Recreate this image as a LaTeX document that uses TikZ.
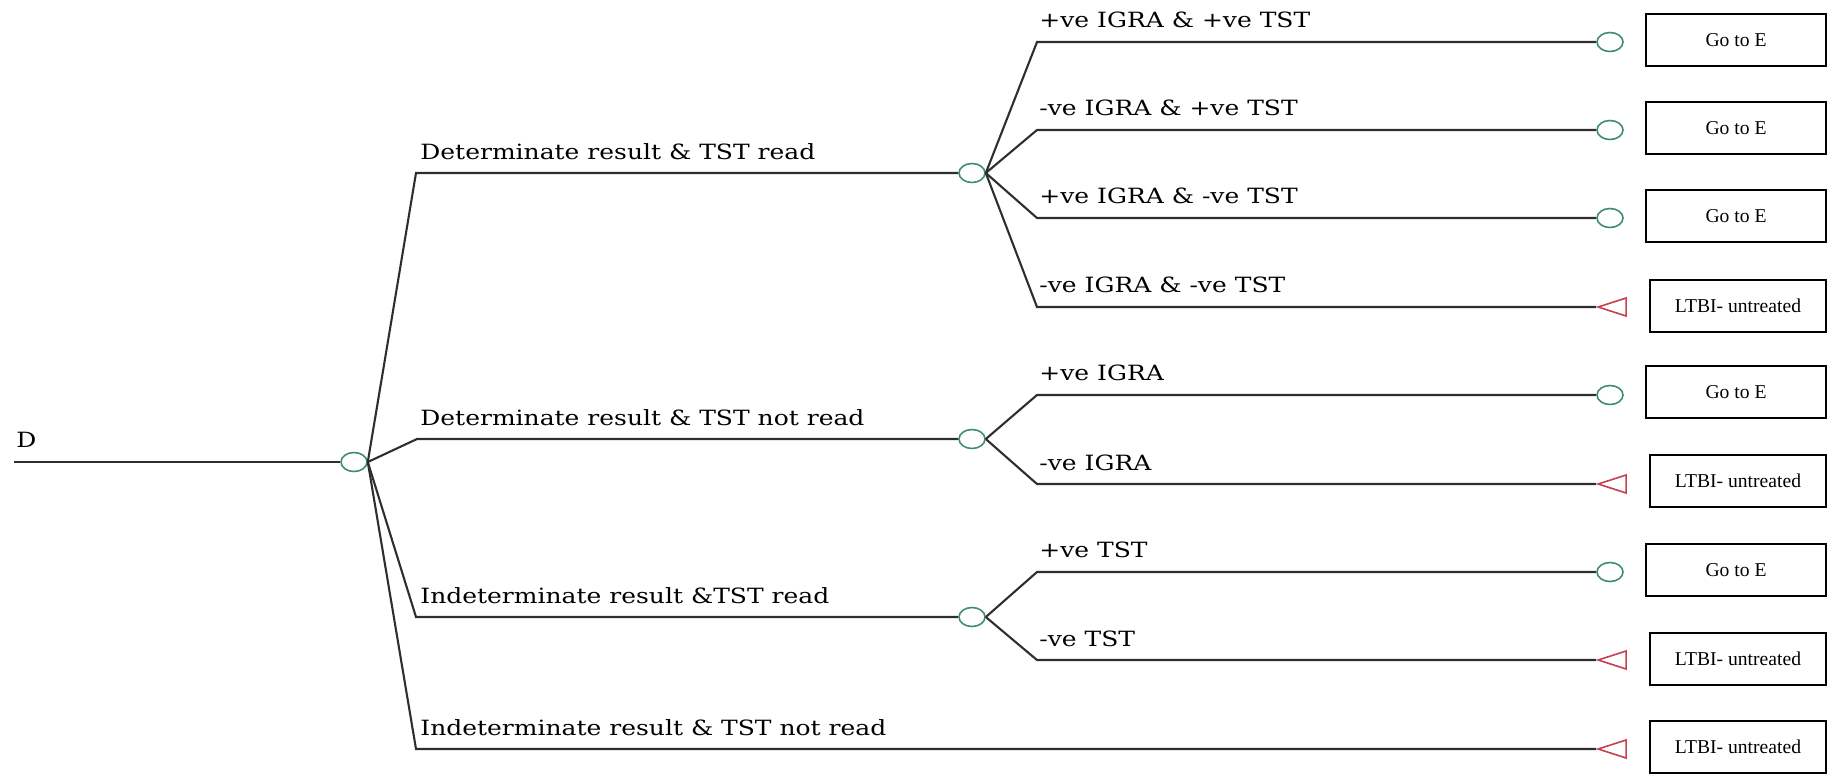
\documentclass[tikz,border=0pt]{standalone}
\usepackage{fontspec}
\setmainfont{Liberation Serif}
\newfontfamily\treefont[FakeStretch=1.19]{DejaVu Serif}
\usepackage{tikz}
\usetikzlibrary{shapes.geometric,positioning}
\usepackage{xcolor}
\definecolor{chancegreen}{HTML}{3E8E6E}
\definecolor{termred}{HTML}{C8404E}
\definecolor{branchgray}{HTML}{2E2E2E}

\begin{document}
\begin{tikzpicture}[x=0.5pt, y=-0.5pt,
    branch/.style={draw=branchgray, line width=1.05pt},
    chance/.style={ellipse, draw=chancegreen, line width=0.8pt, minimum width=13pt, minimum height=9.5pt, inner sep=0pt},
    terminal/.style={isosceles triangle, isosceles triangle stretches, shape border rotate=180, draw=termred, line width=0.8pt, minimum width=9pt, minimum height=14pt, inner sep=0pt, anchor=apex},
    lbl/.style={anchor=base west, inner sep=0pt, font=\treefont\fontsize{10.5}{12}\selectfont},
    outcome/.style={draw, line width=1.2pt, minimum width=90pt, minimum height=26pt, inner sep=0pt, font=\fontsize{9.8}{12}\selectfont}]
    \useasboundingbox (0,0) rectangle (1827,773);

    % decision
    \coordinate (start) at (14,462);
    \node[lbl] (dlab) at (16,447) {D};
    \node[chance] (root) at (354,462) {};
    \draw[branch] (start) -- (root);

    % first level
    \coordinate (a1) at (416,173);
    \coordinate (a2) at (417,439);
    \coordinate (a3) at (416,617);
    \coordinate (a4) at (416,749);
    \node[chance] (n1) at (972,173) {};
    \node[chance] (n2) at (972,439) {};
    \node[chance] (n3) at (972,617) {};
    \node[terminal] (t4) at (1596,749) {};
    \draw[branch] (root.east) -- (a1) -- (n1);
    \draw[branch] (root.east) -- (a2) -- (n2);
    \draw[branch] (root.east) -- (a3) -- (n3);
    \draw[branch] (root.east) -- (a4) -- (t4.apex);
    \node[lbl] (l1) at (420,159) {Determinate result \& TST read};
    \node[lbl] (l2) at (420,425) {Determinate result \& TST not read};
    \node[lbl] (l3) at (420,603) {Indeterminate result \&TST read};
    \node[lbl] (l4) at (420,735) {Indeterminate result \& TST not read};

    % second level, determinate & read
    \coordinate (b11) at (1037,42);
    \coordinate (b12) at (1037,130);
    \coordinate (b13) at (1037,218);
    \coordinate (b14) at (1037,307);
    \node[chance] (e11) at (1610,42) {};
    \node[chance] (e12) at (1610,130) {};
    \node[chance] (e13) at (1610,218) {};
    \node[terminal] (t14) at (1596,307) {};
    \draw[branch] (n1.east) -- (b11) -- (e11);
    \draw[branch] (n1.east) -- (b12) -- (e12);
    \draw[branch] (n1.east) -- (b13) -- (e13);
    \draw[branch] (n1.east) -- (b14) -- (t14.apex);
    \node[lbl] (l11) at (1039,27) {+ve IGRA \& +ve TST};
    \node[lbl] (l12) at (1039,115) {-ve IGRA \& +ve TST};
    \node[lbl] (l13) at (1039,203) {+ve IGRA \& -ve TST};
    \node[lbl] (l14) at (1039,292) {-ve IGRA \& -ve TST};

    % second level, determinate & not read
    \coordinate (b21) at (1037,395);
    \coordinate (b22) at (1037,484);
    \node[chance] (e21) at (1610,395) {};
    \node[terminal] (t22) at (1596,484) {};
    \draw[branch] (n2.east) -- (b21) -- (e21);
    \draw[branch] (n2.east) -- (b22) -- (t22.apex);
    \node[lbl] (l21) at (1039,380) {+ve IGRA};
    \node[lbl] (l22) at (1039,470) {-ve IGRA};

    % second level, indeterminate & read
    \coordinate (b31) at (1037,572);
    \coordinate (b32) at (1037,660);
    \node[chance] (e31) at (1610,572) {};
    \node[terminal] (t32) at (1596,660) {};
    \draw[branch] (n3.east) -- (b31) -- (e31);
    \draw[branch] (n3.east) -- (b32) -- (t32.apex);
    \node[lbl] (l31) at (1039,557) {+ve TST};
    \node[lbl] (l32) at (1039,646) {-ve TST};

    % outcomes
    \node[outcome] (o11) at (1736,40) {Go to E};
    \node[outcome] (o12) at (1736,128) {Go to E};
    \node[outcome] (o13) at (1736,216) {Go to E};
    \node[outcome, minimum width=88pt] (o14) at (1738,306) {LTBI- untreated};
    \node[outcome] (o21) at (1736,392) {Go to E};
    \node[outcome, minimum width=88pt] (o22) at (1738,481) {LTBI- untreated};
    \node[outcome] (o31) at (1736,570) {Go to E};
    \node[outcome, minimum width=88pt] (o32) at (1738,659) {LTBI- untreated};
    \node[outcome, minimum width=88pt] (o4) at (1738,747) {LTBI- untreated};
\end{tikzpicture}
\end{document}
